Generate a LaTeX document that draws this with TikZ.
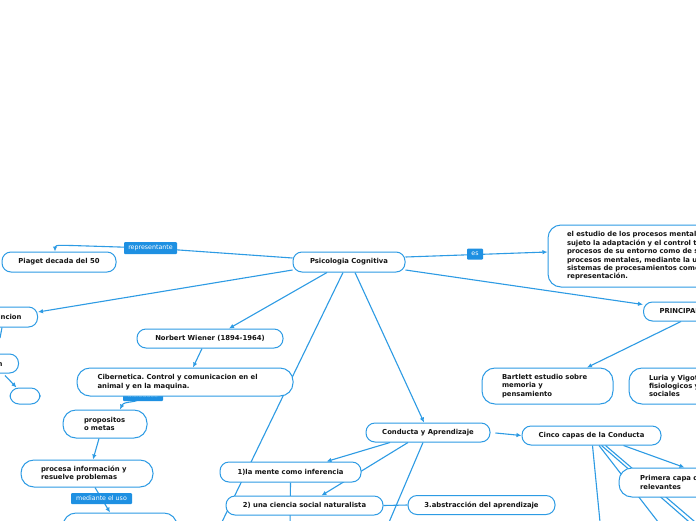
\documentclass[tikz,border=0pt]{standalone}
\usepackage{fontspec}
\setmainfont{DejaVu Sans}
\frenchspacing
\usetikzlibrary{arrows.meta}
\definecolor{bl}{RGB}{45,155,228}
\definecolor{lblfill}{RGB}{30,144,226}
\definecolor{txt}{RGB}{20,20,20}
\pgfdeclarelayer{back}
\pgfdeclarelayer{bg}
\pgfsetlayers{back,bg,main}
\tikzset{
  box/.style={draw=bl, line width=1pt, fill=white, rounded corners=9pt,
    font=\fontsize{6.85}{8.4}\selectfont\bfseries, text=txt, inner sep=0pt, align=center},
  tallbox/.style={box, rounded corners=13pt, align=left},
  conn/.style={draw=bl, line width=1.1pt},
  arr/.style={conn, -{Latex[length=5pt,width=4.5pt]}},
  lbl/.style={fill=lblfill, text=white, font=\fontsize{6.3}{7}\selectfont,
    inner sep=0pt, rounded corners=1pt, minimum height=11pt},
}
\begin{document}
\begin{tikzpicture}[x=1pt,y=-1pt]
\useasboundingbox (0,0) rectangle (696,520);
\begin{pgfonlayer}{back}
\fill[white] (0,0) rectangle (696,520);
\end{pgfonlayer}
\clip (0,0) rectangle (696,520);

% ---------- nodes ----------
\node[box, minimum width=112pt, minimum height=20pt] (psic) at (349,262) {Psicologia Cognitiva};
\node[box, minimum width=114pt, minimum height=20pt] (piaget) at (59,262) {Piaget decada del 50};
\node[tallbox, text width=222pt, inner xsep=19pt, minimum height=62pt] (estudio) at (678,256)
  {\mbox{el estudio de los procesos mentales que permiten al}\\
   \mbox{sujeto la adaptación y el control tanto de los}\\
   \mbox{procesos de su entorno como de sus propios}\\
   \mbox{procesos mentales, mediante la utilización de}\\
   \mbox{sistemas de procesamientos como la}\\
   \mbox{representación.}};
\node[box, anchor=west, minimum height=19pt, inner xsep=16pt] (principa) at (643,311.5) {PRINCIPALES REPRESENTANTES};
\node[box, anchor=east, minimum height=20pt, inner xsep=16pt] (defin) at (38,317) {Distincion};
\node[box, anchor=east, minimum height=19pt, inner xsep=16pt] (hnode) at (19,363.5) {Kintsch};
\node[box, minimum width=30pt, minimum height=16pt] (empty) at (25,396) {};
\node[box, minimum width=146pt, minimum height=19pt] (wiener) at (210,338.5) {Norbert Wiener (1894-1964)};
\node[tallbox, text width=175pt, inner xsep=20.5pt, minimum height=28pt] (cib) at (185,382)
  {\mbox{Cibernetica. Control y comunicacion en el}\\\mbox{animal y en la maquina.}};
\node[tallbox, text width=42pt, inner xsep=21pt, minimum height=28pt] (prop) at (105,424)
  {\mbox{propositos}\\\mbox{o metas}};
\node[tallbox, text width=92pt, inner xsep=20pt, minimum height=27pt] (procesa) at (87,473.5)
  {\mbox{procesa información y}\\\mbox{resuelve problemas}};
\node[box, rounded corners=13pt, minimum width=114pt, minimum height=28pt] (uso) at (120,527) {};
\node[box, minimum width=141pt, minimum height=20pt] (mente) at (290.5,472) {1)la mente como inferencia};
\node[box, minimum width=157pt, minimum height=19pt] (social) at (304.5,505.5) {2) una ciencia social naturalista};
\node[box, minimum width=147pt, minimum height=19pt] (abstr) at (481.5,505) {3.abstracción del aprendizaje};
\node[box, minimum width=124pt, minimum height=19pt] (conducta) at (428,432.5) {Conducta y Aprendizaje};
\node[box, minimum width=139pt, minimum height=19pt] (cinco) at (591.5,435.5) {Cinco capas de la Conducta};
\node[tallbox, text width=110pt, inner xsep=21pt, minimum height=29pt] (primera) at (695,482.5)
  {\mbox{Primera capa de estímulos}\\\mbox{relevantes}};
\node[tallbox, text width=91pt, inner xsep=20pt, minimum height=36pt] (bartlett) at (547.5,386)
  {\mbox{Bartlett estudio sobre}\\\mbox{memoria y}\\\mbox{pensamiento}};
\node[tallbox, text width=90pt, inner xsep=20pt, minimum height=36pt] (luria) at (694,386)
  {\mbox{Luria y Vigotsky estudios}\\\mbox{fisiologicos y}\\\mbox{sociales}};

% ---------- free ends ----------
\coordinate (rp) at (150.5,248);
\coordinate (rq) at (72,245.5);
\coordinate (farA) at (220,526);
\coordinate (farB) at (387,527);
\coordinate (farC) at (290,527);
\coordinate (farD) at (600.5,527);
\coordinate (farE) at (662,527);
\coordinate (farF) at (695,527);
\coordinate (farG) at (701,527);
\coordinate (stub) at (0,338);

% ---------- connectors ----------
\begin{pgfonlayer}{bg}
\clip (0,0) rectangle (696,520);
\draw[arr] ([yshift=4pt]psic.west) -- (rp) -- (rq) to[out=180,in=90] ([xshift=-4pt]piaget.north);
\draw[arr] ([yshift=5pt]psic.east) -- ([yshift=4pt]estudio.west);
\draw[arr] ([yshift=-8pt]psic.east) -- ([yshift=7pt]principa.west);
\draw[arr] ([yshift=-8pt]psic.west) -- ([yshift=5pt]defin.east);
\draw[conn] ([xshift=-36pt]defin.south east) -- (stub);
\draw[arr] ([xshift=-14pt,yshift=-2pt]hnode.south east) -- ([xshift=7pt]empty.north west);
\draw[arr] ([xshift=-22pt]psic.south) -- ([xshift=19pt]wiener.north);
\draw[arr] ([xshift=-8pt]wiener.south) -- ([xshift=8pt]cib.north);
\draw[arr] ([xshift=-37pt]cib.south) -- (143,395.5) to[out=-120,in=65] ([xshift=15pt]prop.north);
\draw[arr] ([xshift=-6pt]prop.south) -- ([xshift=6pt]procesa.north);
\draw[arr] ([xshift=8pt]procesa.south) -- ([xshift=-10pt]uso.north);
\draw[arr] ([xshift=6pt]psic.south) -- ([xshift=-4pt]conducta.north);
\draw[conn] ([xshift=-6pt]psic.south) -- (farA);
\draw[arr, shorten <=5pt] (conducta.east) -- (cinco.west);
\draw[arr] ([xshift=-38pt]conducta.south) -- ([xshift=36pt]mente.north);
\draw[arr] ([xshift=-20pt]conducta.south) -- ([xshift=17pt]social.north);
\draw[conn] ([xshift=-5pt]conducta.south) -- (farB);
\draw[conn] (mente.south) -- (farC);
\draw[conn] (social.east) -- (abstr.west);
\draw[arr] ([xshift=38pt]principa.south west) -- ([xshift=39.5pt]bartlett.north);
\draw[arr] ([xshift=32pt]cinco.south) -- ([xshift=66pt]primera.north west);
\draw[conn] ([xshift=1pt]cinco.south) -- (farD);
\draw[conn] ([xshift=7.5pt]cinco.south) -- (farE);
\draw[conn] ([xshift=10pt]cinco.south) -- (farF);
\draw[conn] ([xshift=14pt]cinco.south) -- (farG);
% labels
\node[lbl, minimum width=53pt, minimum height=12pt] (repr) at (rp) {representante};
\node[lbl, minimum width=16pt] (es) at (475,254) {es};
\node[lbl, minimum width=40pt] (intro) at (143,395.5) {introduce};
\node[lbl, minimum width=61pt] (medi) at (101.5,498.5) {mediante el uso};
\end{pgfonlayer}
\end{tikzpicture}
\end{document}
